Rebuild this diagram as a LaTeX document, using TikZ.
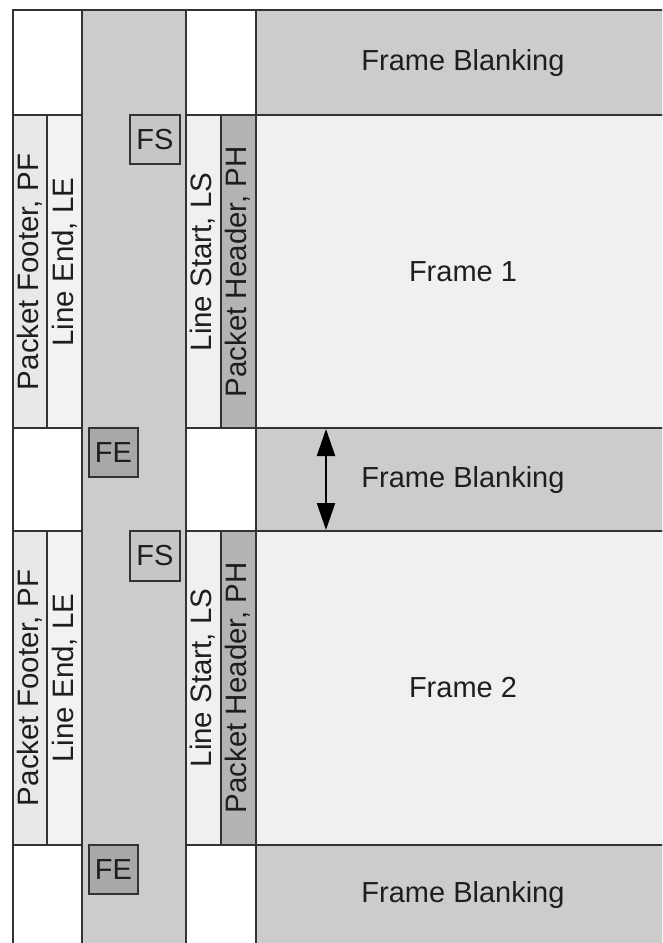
\documentclass[tikz,border=0pt]{standalone}
\usepackage{fontspec}
\setmainfont{Liberation Sans}
\usetikzlibrary{arrows.meta}
\definecolor{edgec}{HTML}{333333}
\definecolor{txtc}{HTML}{1E1E1E}
\definecolor{blankc}{HTML}{CCCCCC}
\definecolor{framec}{HTML}{F0F0F0}
\definecolor{pfc}{HTML}{E8E8E8}
\definecolor{lec}{HTML}{F2F2F2}
\definecolor{lsc}{HTML}{F0F0F0}
\definecolor{phc}{HTML}{B4B4B4}
\definecolor{fsc}{HTML}{C6C6C6}
\definecolor{fec}{HTML}{A8A8A8}
\tikzset{
  cell/.style={draw=edgec, line width=2pt, inner sep=0pt, outer sep=0pt, anchor=north west, text=txtc, font=\fontsize{29}{30}\selectfont},
  vlabel/.style={rotate=90, inner sep=0pt, text=txtc, font=\fontsize{29.5}{30}\selectfont},
  marker/.style={cell, font=\fontsize{29}{30}\selectfont},
  dimarrow/.style={draw=black, line width=2pt, {Triangle[length=27pt,width=18pt]}-{Triangle[length=27pt,width=18pt]}, shorten <=1pt, shorten >=1pt}
}
\newcommand{\cellbox}[7][]{%
  \node[cell,#1, minimum width=#4pt-#2pt, minimum height=#5pt-#3pt] (#6) at (#2,#3) {#7};}
\begin{document}
\begin{tikzpicture}[x=1pt,y=-1pt]
\useasboundingbox (0,0) rectangle (662,943);
\clip (0,0) rectangle (662,943);
% left column
\cellbox[fill=white]{13}{10}{82}{115}{lb1}{}
\cellbox[fill=pfc]{13}{115}{47}{428}{pf1}{}
\cellbox[fill=lec]{47}{115}{82}{428}{le1}{}
\cellbox[fill=white]{13}{428}{82}{531}{lb2}{}
\cellbox[fill=pfc]{13}{531}{47}{845}{pf2}{}
\cellbox[fill=lec]{47}{531}{82}{845}{le2}{}
\cellbox[fill=white]{13}{845}{82}{960}{lb3}{}
% gray column
\cellbox[fill=blankc]{82}{10}{186}{960}{gcol}{}
% third column
\cellbox[fill=white]{186}{10}{256}{115}{rb1}{}
\cellbox[fill=lsc]{186}{115}{221}{428}{ls1}{}
\cellbox[fill=phc]{221}{115}{256}{428}{ph1}{}
\cellbox[fill=white]{186}{428}{256}{531}{rb2}{}
\cellbox[fill=lsc]{186}{531}{221}{845}{ls2}{}
\cellbox[fill=phc]{221}{531}{256}{845}{ph2}{}
\cellbox[fill=white]{186}{845}{256}{960}{rb3}{}
% right region
\cellbox[fill=blankc]{256}{10}{670}{115}{fb1}{Frame Blanking}
\cellbox[fill=framec]{256}{115}{670}{428}{f1}{Frame 1}
\cellbox[fill=blankc]{256}{428}{670}{531}{fb2}{Frame Blanking}
\cellbox[fill=framec]{256}{531}{670}{845}{f2}{Frame 2}
\cellbox[fill=blankc]{256}{845}{670}{945}{fb3}{Frame Blanking}
% vertical labels
\node[vlabel] (tpf1) at (30,272) {Packet Footer, PF};
\node[vlabel] (tle1) at (65,262) {Line End, LE};
\node[vlabel] (tls1) at (203,262) {Line Start, LS};
\node[vlabel] (tph1) at (238,272) {Packet Header, PH};
\node[vlabel] (tpf2) at (30,688) {Packet Footer, PF};
\node[vlabel] (tle2) at (65,678) {Line End, LE};
\node[vlabel] (tls2) at (203,678) {Line Start, LS};
\node[vlabel] (tph2) at (238,688) {Packet Header, PH};
% markers
\cellbox[marker, fill=fsc]{130}{115}{180}{164}{fs1}{FS}
\cellbox[marker, fill=fec]{89}{428}{138}{477}{fe1}{FE}
\cellbox[marker, fill=fsc]{130}{531}{180}{581}{fs2}{FS}
\cellbox[marker, fill=fec]{89}{845}{138}{894}{fe2}{FE}
% blanking height arrow
\coordinate (atop) at (326,428);
\coordinate (abot) at (326,531);
\draw[dimarrow] (atop) -- (abot);
\end{tikzpicture}
\end{document}
